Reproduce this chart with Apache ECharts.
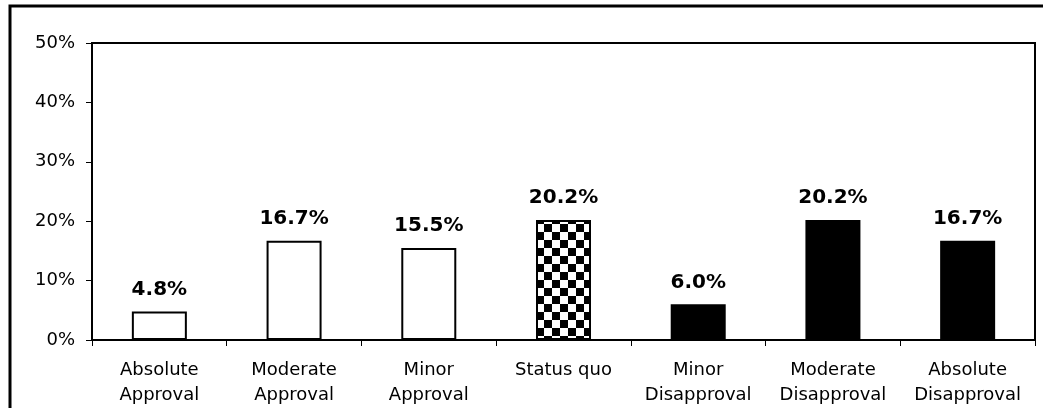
<!DOCTYPE html>
<html>
<head>
<meta charset="utf-8">
<script src="https://cdn.jsdelivr.net/npm/echarts@6/dist/echarts.min.js"></script>
<style>
  html, body { margin: 0; padding: 0; background: #fff; }
  #chart { width: 1043px; height: 408px; }
</style>
</head>
<body>
<div id="chart"></div>
<script>
// Survey responses: share of respondents per opinion category
const categories = [
  'Absolute\nApproval', 'Moderate\nApproval', 'Minor\nApproval', 'Status quo',
  'Minor\nDisapproval', 'Moderate\nDisapproval', 'Absolute\nDisapproval'
];
const shares = [4.8, 16.7, 15.5, 20.2, 6.0, 20.2, 16.7];
// fill style per category: approval = open, neutral = checkered, disapproval = solid
const fills = ['open', 'open', 'open', 'checker', 'solid', 'solid', 'solid'];
const yTicks = [0, 10, 20, 30, 40, 50];

// checkerboard tile for the neutral bar
function checkerTile(size) {
  const c = document.createElement('canvas');
  c.width = size * 2; c.height = size * 2;
  const g = c.getContext('2d');
  g.fillStyle = '#fff'; g.fillRect(0, 0, size * 2, size * 2);
  g.fillStyle = '#000';
  g.fillRect(0, 0, size, size);
  g.fillRect(size, size, size, size);
  return c;
}
const checker = { image: checkerTile(8), repeat: 'repeat' };

function fillFor(kind) {
  if (kind === 'solid') return '#000';
  if (kind === 'checker') return checker;
  return '#fff';
}

const font = 'DejaVu Sans, Verdana, sans-serif';
const chart = echarts.init(document.getElementById('chart'));
chart.setOption({
  animation: false,
  backgroundColor: '#fff',
  grid: {
    left: 92, top: 43, right: 8, bottom: 67,
    show: true, borderColor: '#000', borderWidth: 2, backgroundColor: 'transparent'
  },
  graphic: [{
    type: 'rect',
    shape: { x: 10, y: 6, width: 1200, height: 600 },
    style: { fill: 'none', stroke: '#000', lineWidth: 3 },
    silent: true, z: -1
  }],
  xAxis: {
    type: 'category',
    data: categories,
    axisLine: { lineStyle: { color: '#000', width: 2 } },
    axisTick: { show: true, length: 6, lineStyle: { color: '#000', width: 1 } },
    axisLabel: {
      color: '#000', fontFamily: font, fontSize: 18, lineHeight: 25,
      margin: 18, interval: 0
    }
  },
  yAxis: {
    type: 'value',
    min: yTicks[0], max: yTicks[yTicks.length - 1], interval: 10,
    axisLine: { show: true, lineStyle: { color: '#000', width: 2 } },
    axisTick: { show: true, length: 6, lineStyle: { color: '#000', width: 1 } },
    splitLine: { show: false },
    axisLabel: {
      color: '#000', fontFamily: font, fontSize: 18, margin: 17,
      formatter: v => v + '%'
    }
  },
  series: [{
    type: 'bar',
    barWidth: 55,
    data: shares.map((v, i) => ({
      value: v,
      itemStyle: { color: fillFor(fills[i]), borderColor: '#000', borderWidth: 2 }
    })),
    label: {
      show: true, position: 'top', distance: 12,
      color: '#000', fontFamily: font, fontSize: 20, fontWeight: 'bold',
      formatter: p => p.value.toFixed(1) + '%'
    }
  }]
});
</script>
</body>
</html>
